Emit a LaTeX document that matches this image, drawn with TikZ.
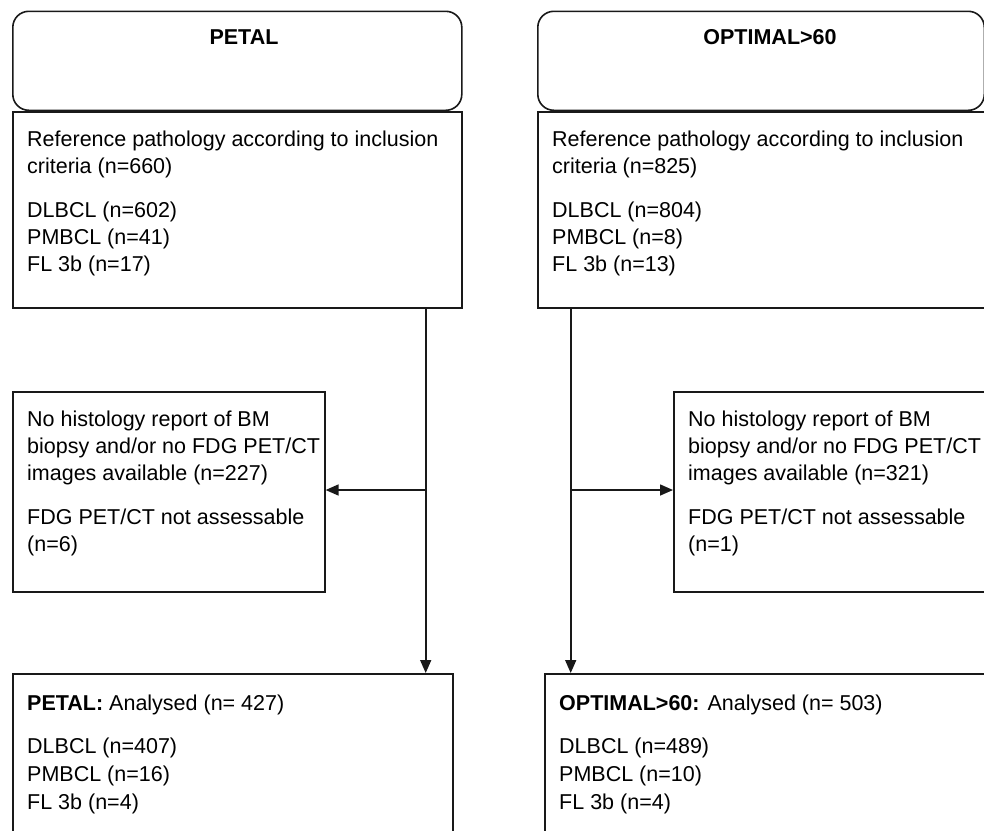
\documentclass[tikz,border=0pt]{standalone}
\usepackage{fontspec}
\setmainfont{Liberation Sans}
\usetikzlibrary{arrows.meta}
\begin{document}
\begin{tikzpicture}[x=1pt,y=-1pt,
  box/.style={draw=black!90, line width=1.6pt, inner sep=0pt, anchor=north west},
  headbox/.style={box, rounded corners=16pt},
  txt/.style={inner sep=0pt, anchor=base west, text=black, font=\fontsize{21.5}{27}\selectfont},
  btxt/.style={inner sep=0pt, anchor=base west, text=black, font=\fontsize{21.5}{28}\selectfont},
  ttl/.style={inner sep=0pt, anchor=base, text=black, font=\fontsize{21.5}{27}\selectfont\bfseries},
  arr/.style={draw=black!90, line width=1.6pt, -{Triangle[length=13pt,width=11pt]}}]
\useasboundingbox (0,0) rectangle (984,830);
\clip (0,0) rectangle (984,830);
% left column
\node[headbox, minimum width=449pt, minimum height=99pt] (hL) at (12,10.5) {};
\node[ttl] (tL) at (244,44) {PETAL};
\node[box, minimum width=449pt, minimum height=196pt] (rL) at (12,111) {};
\node[txt] (rLt) at (27,146) {\parbox[t]{440pt}{Reference pathology according to inclusion\\criteria (n=660)\\[17pt]DLBCL (n=602)\\PMBCL (n=41)\\FL 3b (n=17)}};
\node[box, minimum width=312pt, minimum height=200pt] (sL) at (12,391) {};
\node[txt] (sLt) at (27,426) {\parbox[t]{300pt}{No histology report of BM\\biopsy and/or no FDG PET/CT\\images available (n=227)\\[17pt]FDG PET/CT not assessable\\(n=6)}};
\node[box, minimum width=440pt, minimum height=180pt] (bL) at (12,673) {};
\node[btxt] (bLt) at (27,710) {\parbox[t]{420pt}{\textbf{PETAL:} Analysed (n= 427)\\[15pt]DLBCL (n=407)\\PMBCL (n=16)\\FL 3b (n=4)}};
% right column
\node[headbox, minimum width=446.5pt, minimum height=99pt] (hR) at (537,10.5) {};
\node[ttl] (tR) at (770,44) {OPTIMAL>60};
\node[box, minimum width=448pt, minimum height=196pt] (rR) at (537,111) {};
\node[txt] (rRt) at (552,146) {\parbox[t]{430pt}{Reference pathology according to inclusion\\criteria (n=825)\\[17pt]DLBCL (n=804)\\PMBCL (n=8)\\FL 3b (n=13)}};
\node[box, minimum width=313pt, minimum height=200pt] (sR) at (673,391) {};
\node[txt] (sRt) at (688,426) {\parbox[t]{300pt}{No histology report of BM\\biopsy and/or no FDG PET/CT\\images available (n=321)\\[17pt]FDG PET/CT not assessable\\(n=1)}};
\node[box, minimum width=442pt, minimum height=180pt] (bR) at (544,673) {};
\node[btxt] (bRt) at (559,710) {\parbox[t]{420pt}{\textbf{OPTIMAL>60:} Analysed (n= 503)\\[15pt]DLBCL (n=489)\\PMBCL (n=10)\\FL 3b (n=4)}};
% connectors
\coordinate (xL) at (425.7,490);
\coordinate (xR) at (570.7,490);
\draw[arr] (rL.south -| xL) -- (bL.north -| xL);
\draw[arr] (xL) -- (xL -| sL.east);
\draw[arr] (rR.south -| xR) -- (bR.north -| xR);
\draw[arr] (xR) -- (xR -| sR.west);
\end{tikzpicture}
\end{document}
